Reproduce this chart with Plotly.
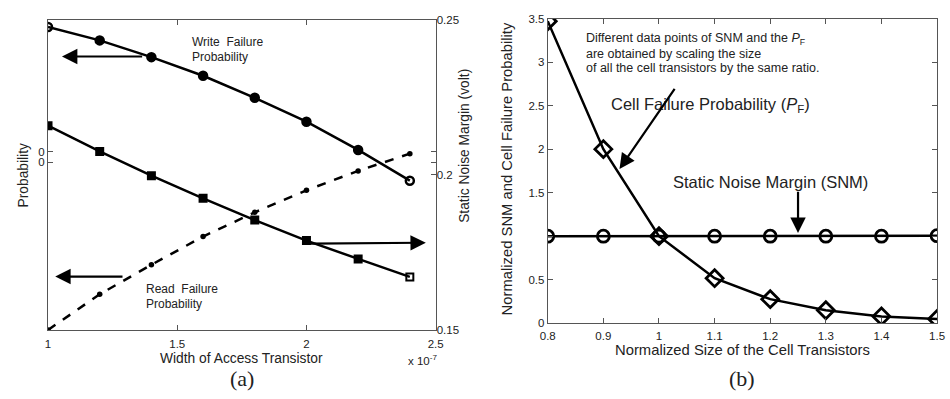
import plotly.graph_objects as go

# ---------- data: panel (a) ----------
access_width = [1.0, 1.2, 1.4, 1.6, 1.8, 2.0, 2.2, 2.4]          # x 10^-7
write_fail_prob = [0.976, 0.933, 0.879, 0.819, 0.748, 0.671, 0.580, 0.481]  # normalized (left axis)
read_fail_prob = [0.0, 0.115, 0.210, 0.301, 0.379, 0.450, 0.5125, 0.568]    # normalized (left axis)
snm_volt = [0.2158, 0.2075, 0.1997, 0.1924, 0.1854, 0.1788, 0.1729, 0.1671]  # right axis
prob_tick_vals = [0.5406, 0.575]
prob_tick_text = ["0", "0"]
snm_tick_vals = [0.15, 0.2, 0.25]
snm_tick_text = ["0.15", "0.2", "0.25"]
width_tick_vals = [1, 1.5, 2, 2.5]
width_tick_text = ["1", "1.5", "2", "2.5"]

# ---------- data: panel (b) ----------
cell_size = [0.8, 0.9, 1.0, 1.1, 1.2, 1.3, 1.4, 1.5]
norm_snm = [1.0, 1.0, 1.0, 1.0, 1.0, 1.0, 1.0, 1.005]
norm_pf = [3.47, 2.0, 1.0, 0.517, 0.276, 0.148, 0.078, 0.048]
b_ytick_vals = [0, 0.5, 1, 1.5, 2, 2.5, 3, 3.5]
b_ytick_text = ["0", "0.5", "", "1.5", "2", "2.5", "3", "3.5"]
b_xtick_vals = [0.8, 0.9, 1.0, 1.1, 1.2, 1.3, 1.4, 1.5]
b_xtick_text = ["0.8", "0.9", "1", "1.1", "1.2", "1.3", "1.4", "1.5"]

FONT = "Liberation Sans, Arial, Helvetica, sans-serif"
SERIF = "Liberation Serif, Times New Roman, serif"
AX = "#555555"

fig = go.Figure()

n = len(access_width)
fig.add_trace(go.Scatter(
    x=access_width, y=write_fail_prob, xaxis="x", yaxis="y", mode="lines+markers",
    line=dict(color="black", width=2.5),
    marker=dict(color="black", size=8,
                symbol=["circle-open"] + ["circle"] * (n - 2) + ["circle-open"],
                line=dict(color="black", width=2.5)),
    showlegend=False))
fig.add_trace(go.Scatter(
    x=access_width, y=read_fail_prob, xaxis="x", yaxis="y", mode="lines+markers",
    line=dict(color="black", width=2.5, dash="dash"),
    marker=dict(color="black", size=5.5, symbol="circle"),
    showlegend=False))
fig.add_trace(go.Scatter(
    x=access_width, y=snm_volt, xaxis="x", yaxis="y2", mode="lines+markers",
    line=dict(color="black", width=2.5),
    marker=dict(color="black", size=7,
                symbol=["square"] * (n - 1) + ["square-open"],
                line=dict(color="black", width=2)),
    showlegend=False))

fig.add_trace(go.Scatter(
    x=cell_size, y=norm_snm, xaxis="x2", yaxis="y3", mode="lines+markers",
    line=dict(color="black", width=2.5),
    marker=dict(color="black", size=12, symbol="circle-open", line=dict(color="black", width=2.8)),
    showlegend=False))
fig.add_trace(go.Scatter(
    x=cell_size, y=norm_pf, xaxis="x2", yaxis="y3", mode="lines+markers",
    line=dict(color="black", width=2.5),
    marker=dict(color="black", size=13, symbol="diamond-open", line=dict(color="black", width=2.8)),
    showlegend=False))

W, H = 950, 399


def px(x):
    return x / W


def py(y):
    return 1 - y / H


def axstyle(size):
    return dict(showgrid=False, zeroline=False, linecolor=AX, linewidth=1,
                ticks="inside", ticklen=5, tickcolor=AX,
                tickfont=dict(family=FONT, size=size, color="#222"))


fig.update_layout(
    width=W, height=H, margin=dict(l=0, r=0, t=0, b=0),
    paper_bgcolor="white", plot_bgcolor="white",
    font=dict(family=FONT, color="#222"),
    xaxis=dict(domain=[px(40.7), px(435)], range=[1, 2.5], anchor="y", showline=True,
               tickvals=width_tick_vals, ticktext=width_tick_text, mirror="ticks",
               ticklabelstandoff=3, **axstyle(11.5)),
    yaxis=dict(domain=[py(334), py(14)], range=[0, 1], anchor="x", showline=True,
               tickvals=prob_tick_vals, ticktext=prob_tick_text, mirror="ticks", **axstyle(11.5)),
    yaxis2=dict(overlaying="y", side="right", range=[0.15, 0.25], anchor="x", showline=False,
                tickvals=snm_tick_vals, ticktext=snm_tick_text, **axstyle(11.5)),
    xaxis2=dict(domain=[px(549), px(945)], range=[0.8, 1.5], anchor="y3", showline=True,
                tickvals=b_xtick_vals, ticktext=b_xtick_text, mirror="ticks",
                ticklabelstandoff=2, **axstyle(11.5)),
    yaxis3=dict(domain=[py(327), py(13)], range=[0, 3.5], anchor="x2", showline=True,
                tickvals=b_ytick_vals, ticktext=b_ytick_text, mirror="ticks", **axstyle(11.5)),
)

ann = []


def txt(x, y, s, size=12, xanchor="left", yanchor="middle", angle=0, family=FONT):
    ann.append(dict(x=px(x), y=py(y), xref="paper", yref="paper", text=s, showarrow=False,
                    xanchor=xanchor, yanchor=yanchor, textangle=angle,
                    font=dict(family=family, size=size, color="#222")))


# panel (a) texts
txt(185, 37, "Write&nbsp; Failure")
txt(185, 53, "Probability")
txt(138, 292, "Read&nbsp; Failure")
txt(138, 307, "Probability")
txt(16, 174, "Probability", size=13.8, xanchor="center", angle=-90)
txt(464, 144, "Static Noise Margin (volt)", size=13.8, xanchor="center", angle=-90)
txt(238, 363, "Width of Access Transistor", size=13.8, xanchor="center")
txt(405, 365, "x 10<sup>-7</sup>", size=11.5)
txt(238, 384, "(a)", size=22, xanchor="center", family=SERIF)

# panel (b) texts
txt(586, 34, "Different data points of SNM and the <i>P</i><sub>F</sub>", size=12.5)
txt(586, 49, "are obtained by scaling the size", size=12.5)
txt(586, 64, "of all the cell transistors by the same ratio.", size=12.5)
txt(611, 102, "Cell Failure Probability (<i>P</i><sub>F</sub>)", size=16.5)
txt(674, 181, "Static Noise Margin (SNM)", size=16.5)
txt(507, 168, "Normalized SNM and Cell Failure Probability", size=14.8, xanchor="center", angle=-90)
txt(747, 355, "Normalized Size of the Cell Transistors", size=14.8, xanchor="center")
txt(747, 384, "(b)", size=22, xanchor="center", family=SERIF)


def arrow(xref, yref, tip, tail):
    ann.append(dict(x=tip[0], y=tip[1], ax=tail[0], ay=tail[1], xref=xref, yref=yref,
                    axref=xref, ayref=yref, text="", showarrow=True,
                    arrowhead=2, arrowsize=1.4, arrowwidth=2.2, arrowcolor="black"))


# arrows (a) in data coords
arrow("x", "y", (1.054, 0.881), (1.37, 0.881))
arrow("x", "y", (1.028, 0.172), (1.294, 0.172))
arrow("x", "y", (2.462, 0.281), (2.01, 0.278))
# arrows (b)
arrow("x2", "y3", (0.929, 1.772), (1.030, 2.709))
arrow("x2", "y3", (1.25, 1.037), (1.25, 1.527))

fig.update_layout(annotations=ann)
fig.write_html("out.html")
